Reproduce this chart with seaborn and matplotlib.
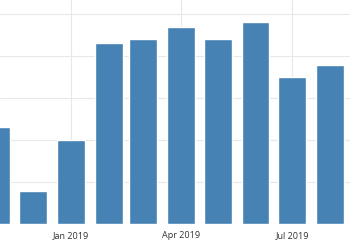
import matplotlib
matplotlib.use("Agg")
import matplotlib.pyplot as plt
import seaborn as sns
import pandas as pd

months = ["2018-11-01", "2018-12-01", "2019-01-01", "2019-02-01", "2019-03-01",
          "2019-04-01", "2019-05-01", "2019-06-01", "2019-07-01", "2019-08-01"]
values = [2.30, 0.79, 2.00, 4.30, 4.40, 4.70, 4.40, 4.81, 3.49, 3.79]
tick_dates = ["2019-01-01", "2019-04-01", "2019-07-01"]
tick_labels = ["Jan 2019", "Apr 2019", "Jul 2019"]

origin = pd.Timestamp("2019-01-01")
days = [(pd.Timestamp(m) - origin).days for m in months]
tick_days = [(pd.Timestamp(t) - origin).days for t in tick_dates]

df = pd.DataFrame({"day": days, "value": values})

sns.set_style("white")
plt.rcParams["font.family"] = ["Open Sans", "DejaVu Sans"]

fig = plt.figure(figsize=(3.5, 2.5), dpi=100)
ax = fig.add_axes([0, 0.104, 1, 0.896])

sns.barplot(data=df, x="day", y="value", native_scale=True, orient="x",
            color="#4682b4", saturation=1, width=0.81, errorbar=None, ax=ax,
            zorder=3)

ax.set_xlim(-58.1, 228.3)
ax.set_ylim(0, 5.333)
ax.set_yticks([0, 1, 2, 3, 4, 5])
ax.set_yticklabels([])
ax.set_xticks(tick_days)
ax.set_xticklabels(tick_labels)
ax.grid(True, color="#e8e8e8", linewidth=0.8, zorder=0)
ax.set_axisbelow(True)
for s in ax.spines.values():
    s.set_visible(False)
ax.tick_params(axis="y", length=0)
ax.tick_params(axis="x", length=2, color="#dddddd", pad=3, labelsize=6.5,
               labelcolor="#333333")
ax.set_xlabel("")
ax.set_ylabel("")

fig.savefig("out.png", dpi=100)
